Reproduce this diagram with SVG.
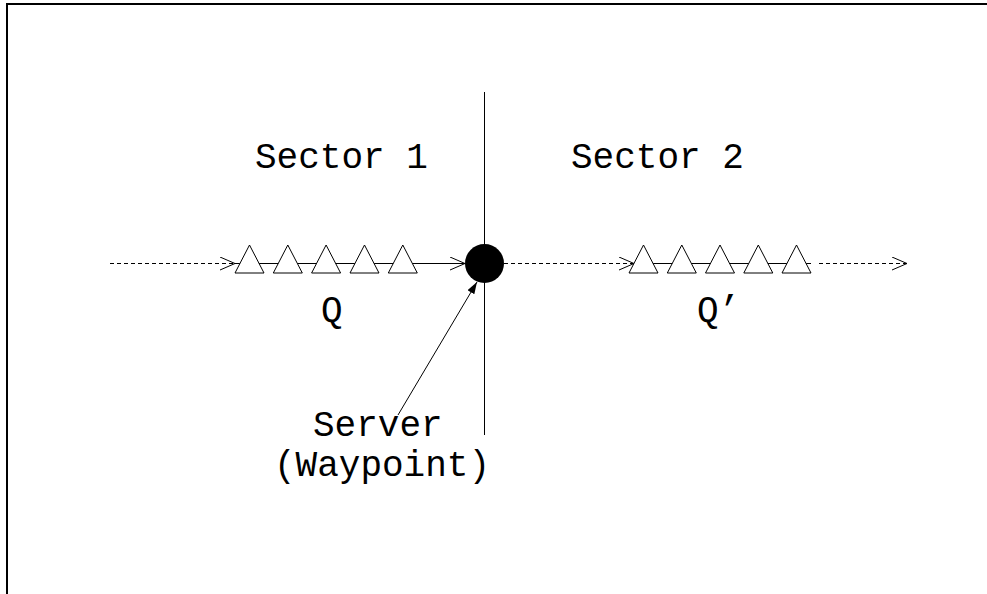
<svg xmlns="http://www.w3.org/2000/svg" width="987" height="594" viewBox="0 0 987 594">
<defs>
<style>
.t{font-family:"Liberation Mono","DejaVu Sans Mono",monospace;font-size:36px;fill:#000}
.ln{stroke:#000;stroke-width:1;fill:none}
.dash{stroke:#000;stroke-width:1;fill:none;stroke-dasharray:4 3}
.tri{fill:#fff;stroke:#000;stroke-width:1}
</style>
<marker id="open" markerWidth="16" markerHeight="14" refX="15" refY="7" orient="auto" markerUnits="userSpaceOnUse">
<path d="M0,0.5 L15,7 L0,13.5" fill="none" stroke="#000" stroke-width="1"/>
</marker>
<marker id="filled" markerWidth="12" markerHeight="10" refX="12" refY="4" orient="auto" markerUnits="userSpaceOnUse">
<path d="M0,0 L12,4 L0,8 Z" fill="#000"/>
</marker>
<polygon id="tr" class="tri" points="0,273 14.5,245 29,273"/>
</defs>
<rect width="987" height="594" fill="#fff"/>
<g id="frame">
<path d="M7,594 L7,4 L987,4" fill="none" stroke="#000" stroke-width="2"/>
</g>
<g id="divider">
<line class="ln" x1="484.5" y1="92" x2="484.5" y2="435"/>
</g>
<g id="connectors">
<line class="dash" x1="110" y1="263.5" x2="235" y2="263.5" marker-end="url(#open)"/>
<line class="ln" x1="235" y1="263.5" x2="465" y2="263.5" marker-end="url(#open)"/>
<line class="dash" x1="504" y1="263.5" x2="634" y2="263.5" marker-end="url(#open)"/>
<line class="ln" x1="634" y1="263.5" x2="811" y2="263.5"/>
<line class="dash" x1="819" y1="263.5" x2="907" y2="263.5" marker-end="url(#open)"/>
<line class="ln" x1="398" y1="415" x2="477" y2="282" marker-end="url(#filled)"/>
</g>
<g id="queue-Q">
<use href="#tr" x="235"/>
<use href="#tr" x="273.3"/>
<use href="#tr" x="311.6"/>
<use href="#tr" x="350"/>
<use href="#tr" x="388.3"/>
<text class="t" x="321" y="321">Q</text>
</g>
<g id="queue-Q2">
<use href="#tr" x="629"/>
<use href="#tr" x="667.3"/>
<use href="#tr" x="705.5"/>
<use href="#tr" x="743.8"/>
<use href="#tr" x="782"/>
<text class="t" x="697" y="321">Q’</text>
</g>
<g id="server">
<circle cx="484.5" cy="263.5" r="19.5" fill="#000"/>
<text class="t" x="313" y="436">Server</text>
<text class="t" x="274" y="476">(Waypoint)</text>
</g>
<g id="sector1">
<text class="t" x="255" y="168">Sector 1</text>
</g>
<g id="sector2">
<text class="t" x="571" y="168">Sector 2</text>
</g>
</svg>
